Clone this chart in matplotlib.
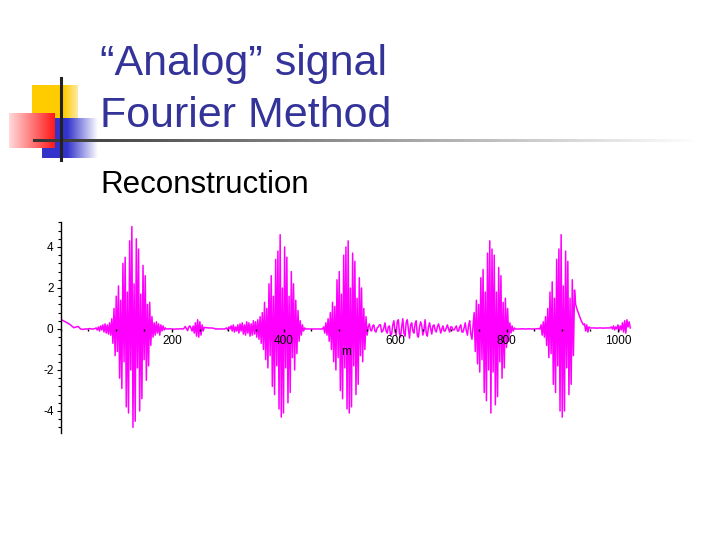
import numpy as np
import matplotlib
matplotlib.use("Agg")
import matplotlib.pyplot as plt
from matplotlib.ticker import MultipleLocator, AutoMinorLocator

# readings of the reconstructed signal, segment by segment
# (first sample index, sample step, values)
lead_in = (0, 4, [0.45, 0.42, 0.36, 0.3, 0.24, 0.15, 0.06, 0.1, 0.12, 0.0, -0.02, 0.0, 0.0, 0.02, 0.0, 0.0])
pre_1 = (64, 2, [0.05, -0.05, 0.1, -0.1, 0.15, -0.05, 0.2, -0.15, 0.25, -0.2, 0.2, -0.25, 0.3, -0.3])
burst_1 = (92, 2, [0.5, -0.7, 1.0, -1.3, 1.6, -1.1, 2.1, -2.4, 1.4, -2.9, 3.2, -1.6, 3.5, -3.8, 1.8, -4.1, 4.3, -2.0,
                   5.0, -4.8, 2.2, -4.5, 4.4, -1.9, 3.9, -4.0, 1.7, -3.4, 3.1, -1.5, 2.6, -2.5, 1.2, -1.8, 1.3, -0.8])
post_1 = (164, 2, [0.6, -0.4, 0.3, -0.3, 0.35, -0.2, 0.25, -0.3, 0.2, -0.1, 0.15, -0.05, 0.05, 0.0])
quiet_1 = (192, 4, [0.0, 0.01, 0.0, -0.01, 0.0, 0.0, 0.01, 0.0])
small_wig = (222, 2, [0.05, 0.12, 0.0, -0.08, 0.1, 0.15, 0.05, -0.1, 0.15, -0.2, 0.3])
small_burst = (244, 2, [-0.35, 0.45, -0.4, 0.35, -0.3, 0.2, -0.1])
flat_1 = (258, 4, [0.08, 0.06, 0.05, 0.05, 0.04, 0.0, 0.0, 0.0, 0.0, 0.0])
pre_2 = (298, 2, [0.05, -0.05, 0.1, 0.0, 0.15, -0.1, 0.2, -0.15, 0.1, -0.1, 0.2, -0.2, 0.25, -0.1, 0.3, -0.25,
                  0.2, -0.3, 0.35, -0.2, 0.3, -0.35, 0.25, -0.3, 0.4, -0.25, 0.35, -0.4, 0.45, -0.5, 0.6, -0.7])
burst_2 = (362, 2, [0.8, -1.0, 1.3, -1.5, 1.0, -1.9, 2.2, -1.3, 2.6, -2.8, 1.6, -3.2, 3.4, -1.8, 3.8, -3.9, 4.6,
                    -4.3, 2.0, -4.1, 4.0, -1.9, 3.5, -3.6, 1.6, -3.1, 2.8, -1.4, 2.2, -2.0, 1.4, -1.2, 0.9, -0.6])
post_2 = (430, 2, [0.4, -0.3, 0.2, -0.1, 0.05, 0.0, 0.0, 0.0, 0.0])
quiet_2 = (450, 4, [0.0, 0.0, 0.0, 0.0, 0.0, 0.0])
pre_3 = (472, 2, [0.1, -0.2, 0.3, -0.3, 0.5, -0.6, 0.8])
burst_3 = (486, 2, [-1.0, 1.3, -1.6, 1.1, -2.0, 2.4, -1.4, 2.8, -3.0, 1.7, -3.4, 3.6, -1.9, 4.0, -3.9, 4.3,
                    -4.1, 2.0, -3.8, 3.7, -1.8, 3.3, -3.2, 1.5, -2.7, 2.5, -1.3, 2.0, -1.6, 1.0, -1.0, 0.6])
noise_mid = (550, 2, [-0.3, 0.1, 0.25, -0.05, -0.1, 0.15, 0.2, -0.1, -0.15, 0.05, 0.1, 0.2, 0.2, -0.15, -0.1, 0.05,
                      0.3, -0.1, -0.2, 0.1, 0.15, -0.3, -0.25, 0.2, 0.4, -0.1, -0.3, 0.35, 0.45, -0.2, -0.4, 0.1,
                      0.5, -0.2, -0.35, 0.3, 0.45, 0.0, -0.45, 0.2, 0.3, -0.1, -0.2, 0.25, 0.4, -0.3, -0.4, 0.1,
                      0.35, 0.15, -0.3, -0.05, 0.45, -0.2, -0.35, 0.1, 0.3, 0.0, -0.25, 0.15, 0.2, -0.05, -0.15, 0.1,
                      0.25, 0.05, -0.2, 0.0, 0.15, -0.1, -0.1, 0.05, 0.2, 0.0, -0.15, 0.1, 0.1, -0.05, -0.05, 0.05,
                      0.15, -0.1, -0.1, 0.1, 0.2, -0.15, -0.15, 0.05, 0.3, -0.1, -0.3, 0.2, 0.4, -0.25, -0.5])
burst_4 = (742, 2, [0.8, -1.1, 1.4, -1.7, 1.2, -2.1, 2.5, -1.5, 2.9, -3.1, 1.8, -3.5, 3.7, -2.0, 4.3, -4.1, 3.9,
                    -2.1, 3.6, -3.7, 1.8, -3.3, 3.0, -1.6, 2.6, -2.4, 1.3, -1.9, 1.5, -0.9, 1.0, -0.6, 0.3])
post_4 = (808, 2, [-0.2, 0.15, -0.1, 0.05, 0.0, 0.0, 0.0])
quiet_4 = (824, 4, [0.0, 0.01, 0.0, 0.0, 0.01, 0.0, 0.0, 0.0, 0.02, 0.0])
pre_5 = (862, 2, [0.2, -0.3, 0.35, -0.4, 0.6, -0.8])
burst_5 = (874, 2, [1.0, -1.4, 1.8, -1.2, 2.3, -2.7, 1.5, -3.1, 3.4, -1.8, 3.9, -4.0, 4.6, -4.3, 2.1, -4.0, 3.8,
                    -1.9, 3.3, -3.2, 1.5, -2.7, 2.4, -1.3, 1.9, 1.2])
tail = (926, 2, [1.0, 0.85, 0.7, 0.55, 0.4, 0.3, 0.2, 0.25, -0.1, 0.2, -0.15, 0.1, 0.05])
flat_end = (954, 4, [0.05, 0.05, 0.04, 0.05, 0.05, 0.04, 0.05, 0.05, 0.05])
end_wig = (988, 2, [0.1, 0.0, 0.15, -0.05, 0.1, 0.0, 0.2, -0.1, 0.15, -0.05, 0.3, -0.15, 0.4, -0.2, 0.45, 0.1,
                    0.35, 0.05])

segments = [lead_in, pre_1, burst_1, post_1, quiet_1, small_wig, small_burst, flat_1, pre_2, burst_2, post_2,
            quiet_2, pre_3, burst_3, noise_mid, burst_4, post_4, quiet_4, pre_5, burst_5, tail, flat_end, end_wig]

x_ticks = [200, 400, 600, 800, 1000]
y_ticks = [-4, -2, 0, 2, 4]

m = np.concatenate([start + step * np.arange(len(v)) for start, step, v in segments])
sig = np.concatenate([np.array(v, dtype=float) for _, _, v in segments])

fig = plt.figure(figsize=(7.2, 5.4), dpi=100)

# slide background in pixel coordinates
bg = fig.add_axes([0, 0, 1, 1])
bg.set_xlim(0, 720)
bg.set_ylim(540, 0)
bg.axis("off")


def gradient_box(x0, x1, y0, y1, c_left, c_right, fade_at=0.0):
    t = np.linspace(0, 1, 200)
    t = np.clip((t - fade_at) / (1 - fade_at), 0, 1) if fade_at > 0 else t
    cl = np.array(matplotlib.colors.to_rgb(c_left))
    cr = np.array(matplotlib.colors.to_rgb(c_right))
    img = cl[None, None, :] * (1 - t)[None, :, None] + cr[None, None, :] * t[None, :, None]
    bg.imshow(img, extent=(x0, x1, y1, y0), aspect="auto", interpolation="bilinear", zorder=1)


gradient_box(32, 78, 85, 118, "#ffcc00", "#ffe9a8", fade_at=0.7)
gradient_box(42, 98, 118, 158, "#3333cc", "#ffffff", fade_at=0.45)
gradient_box(9, 55, 113, 148, "#ffdada", "#ff1818")
gradient_box(33, 700, 139.5, 142.5, "#333333", "#ffffff", fade_at=0.0)
bg.plot([61, 61], [78, 160], color="#222222", lw=2.2, zorder=3)

title_font = "Liberation Sans"
bg.text(100, 75, "\u201cAnalog\u201d signal", fontsize=31, color="#333399", family=title_font, va="baseline")
bg.text(100, 127, "Fourier Method", fontsize=31, color="#333399", family=title_font, va="baseline")
bg.text(100, 193, "Reconstruction", fontsize=22.5, color="black", family=title_font, va="baseline")

# the plot itself
ax = fig.add_axes([60.5 / 720, 1 - 432.5 / 540, 1040 * 0.5575 / 720, 10.25 * 20.5 / 540])
ax.patch.set_alpha(0)
ax.set_axisbelow(False)
ax.plot(m, sig, color="#ff00ff", lw=1.1)
ax.set_xlim(0, 1040)
ax.set_ylim(-5.05, 5.2)

ax.spines["top"].set_visible(False)
ax.spines["right"].set_visible(False)
ax.spines["left"].set_position(("data", 0))
ax.spines["bottom"].set_position(("data", 0))
ax.spines["bottom"].set_color("none")
ax.spines["left"].set_linewidth(1.0)

ax.set_xticks(x_ticks)
ax.set_yticks(y_ticks)
ax.set_yticklabels([str(v) for v in y_ticks])
ax.xaxis.set_minor_locator(MultipleLocator(50))
ax.yaxis.set_minor_locator(AutoMinorLocator(5))
ax.tick_params(axis="x", which="major", length=2, width=1, color="black", labelsize=8.5, pad=2)
ax.tick_params(axis="x", which="minor", length=1.5, width=1, color="black")
ax.tick_params(axis="y", which="major", length=3, width=0.8, labelsize=8.5, pad=2)
ax.tick_params(axis="y", which="minor", length=2, width=0.8)
for lab in ax.get_xticklabels() + ax.get_yticklabels():
    lab.set_family("Liberation Sans")
ax.text(513, -1.1, "m", fontsize=8.5, family="Liberation Sans", ha="center", va="center", zorder=5)

fig.savefig("out.png", dpi=100)
